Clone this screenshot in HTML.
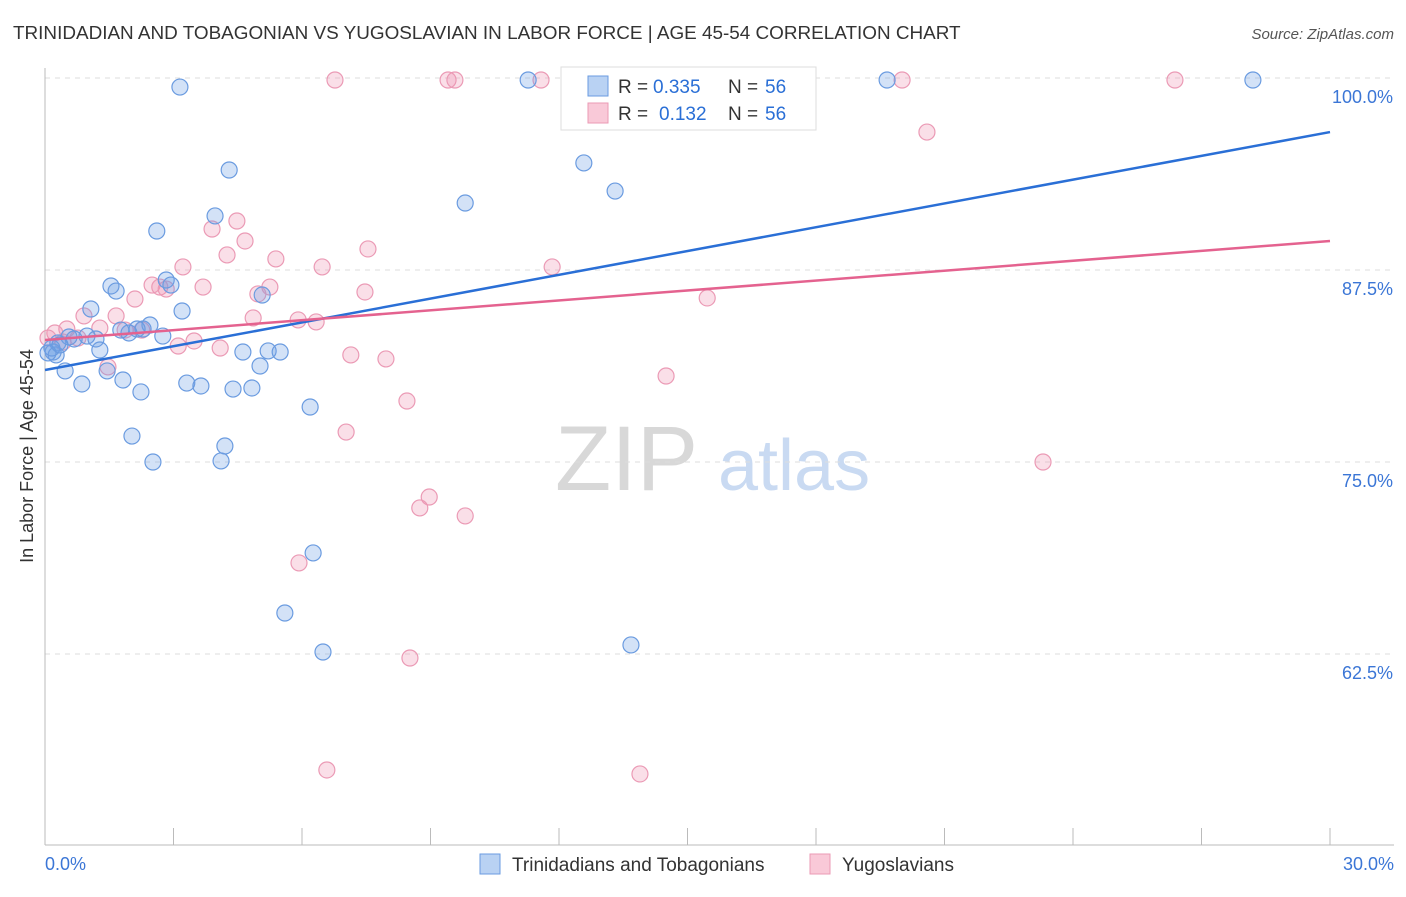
<!DOCTYPE html>
<html><head><meta charset="utf-8"><style>
body{margin:0;background:#fff;font-family:"Liberation Sans",sans-serif;}
svg text{font-family:"Liberation Sans",sans-serif;}
</style></head><body>
<svg id="chart" width="1406" height="892" xmlns="http://www.w3.org/2000/svg">
<text x="13" y="39" font-size="18.9" fill="#333">TRINIDADIAN AND TOBAGONIAN VS YUGOSLAVIAN IN LABOR FORCE | AGE 45-54 CORRELATION CHART</text>
<text x="1394" y="39" font-size="15" fill="#555" text-anchor="end" font-style="italic">Source: ZipAtlas.com</text>
<text transform="translate(33,456) rotate(-90)" font-size="18" fill="#333" text-anchor="middle">In Labor Force | Age 45-54</text>
<text x="555" y="490" font-size="92" fill="#d8d8d8" font-family="Liberation Serif,serif">ZIP</text>
<text x="718" y="490" font-size="72" fill="#c9daf2">atlas</text>
<g id="grid"></g><g id="axes"></g><g id="pts"></g><g id="lines"></g>
<g>
<rect x="561" y="67" width="255" height="63" fill="#fff" stroke="#ddd"/>
<rect x="588" y="76" width="20" height="20" fill="#b9d2f3" stroke="#6a9be0"/>
<rect x="588" y="103" width="20" height="20" fill="#f9c9d8" stroke="#eb9ab5"/>
<text x="618" y="93" font-size="19" fill="#333">R =</text>
<text x="653" y="93" font-size="19" fill="#2a6fd6">0.335</text>
<text x="728" y="93" font-size="19" fill="#333">N =</text>
<text x="765" y="93" font-size="19" fill="#2a6fd6">56</text>
<text x="618" y="120" font-size="19" fill="#333">R =</text>
<text x="659" y="120" font-size="19" fill="#2a6fd6">0.132</text>
<text x="728" y="120" font-size="19" fill="#333">N =</text>
<text x="765" y="120" font-size="19" fill="#2a6fd6">56</text>
</g>
<g>
<rect x="480" y="854" width="20" height="20" fill="#b9d2f3" stroke="#6a9be0"/>
<text x="512" y="871" font-size="19" fill="#333">Trinidadians and Tobagonians</text>
<rect x="810" y="854" width="20" height="20" fill="#f9c9d8" stroke="#eb9ab5"/>
<text x="842" y="871" font-size="19" fill="#333">Yugoslavians</text>
</g>
</svg>
<script>
const blueX=[3.15,4.30,2.61,3.97,1.54,1.66,2.83,2.94,1.07,3.20,2.45,2.29,2.15,1.96,1.77,2.75,0.98,0.68,0.56,1.19,1.28,0.30,0.19,0.26,0.47,0.86,1.45,1.82,2.24,3.31,3.64,4.39,4.83,4.62,5.21,5.49,5.02,5.07,6.19,2.03,2.52,4.20,4.11,6.26,5.60,6.49,9.81,11.28,12.58,13.31,13.68,19.66,28.20,0.16,0.07,0.35];
const blueY=[99.41,94.01,90.04,91.02,86.46,86.13,86.85,86.52,84.96,84.83,83.92,83.66,83.66,83.40,83.59,83.20,83.20,83.01,83.14,83.01,82.29,82.75,82.16,81.97,80.93,80.08,80.93,80.34,79.56,80.14,79.95,79.75,79.82,82.16,82.23,82.16,81.25,85.87,78.58,76.69,75.00,76.04,75.07,69.08,65.17,62.63,91.86,99.87,94.47,92.64,63.09,99.87,99.87,82.42,82.10,82.62];
const pinkX=[6.77,9.41,9.57,11.58,12.63,20.01,26.38,20.59,4.48,3.90,4.67,4.25,7.54,5.39,3.22,6.47,11.84,2.50,2.68,2.83,3.69,5.25,4.97,7.47,15.46,2.10,1.66,0.91,4.86,5.91,6.33,1.28,0.51,0.23,0.07,3.11,3.48,4.09,7.14,7.96,1.47,14.50,8.45,7.03,23.30,8.97,8.75,9.81,5.93,8.52,6.58,13.89,0.77,0.42,1.87,2.26];
const pinkY=[99.87,99.87,99.87,99.87,99.87,99.87,99.87,96.48,90.69,90.17,89.39,88.48,88.87,88.22,87.70,87.70,87.70,86.52,86.39,86.26,86.39,86.39,85.94,86.07,85.68,85.61,84.51,84.51,84.38,84.25,84.12,83.72,83.66,83.40,83.07,82.55,82.88,82.42,81.97,81.71,81.19,80.60,78.97,76.95,75.00,72.72,72.01,71.49,68.43,62.24,54.95,54.69,83.07,82.81,83.59,83.59];
const blueTrend=[80.99,96.48];
const pinkTrend=[82.94,89.39];
const yTicks=[100,87.5,75,62.5];
const yTickLabels=["100.0%","87.5%","75.0%","62.5%"];
const xTicks=[0,3,6,9,12,15,18,21,24,27,30];
const xs=v=>45+v/30*1285;
const ys=v=>78+(100-v)*15.36;
const NS="http://www.w3.org/2000/svg";
function mk(parent,tag,attrs){const e=document.createElementNS(NS,tag);for(const k in attrs)e.setAttribute(k,attrs[k]);document.getElementById(parent).appendChild(e);return e;}
yTicks.forEach((t,i)=>{
 const l=mk('grid','line',{x1:45,x2:1394,y1:ys(t),y2:ys(t),stroke:'#ddd','stroke-dasharray':'5,5'});
 
 
 const tx=mk('grid','text',{x:1393,y:ys(t)+25,'font-size':18,fill:'#3b76d6','text-anchor':'end'});
 tx.textContent=yTickLabels[i];
 
 
});
let a=mk('axes','line',{x1:45,x2:45,y1:68,y2:845,stroke:'#bbb'});


a=mk('axes','line',{x1:45,x2:1394,y1:845,y2:845,stroke:'#bbb'});


xTicks.forEach(t=>{const l=mk('axes','line',{x1:xs(t),x2:xs(t),y1:828,y2:845,stroke:'#bbb'});
 
 });
let t=mk('axes','text',{x:45,y:870,'font-size':18,fill:'#3b76d6'});t.textContent='0.0%';


t=mk('axes','text',{x:1394,y:870,'font-size':18,fill:'#3b76d6','text-anchor':'end'});t.textContent='30.0%';


pinkX.forEach((x,i)=>{const c=mk('pts','circle',{cx:xs(x),cy:ys(pinkY[i]),r:8,fill:'rgba(240,150,180,0.3)',stroke:'#eb9ab5','stroke-width':1.2});
 
 });
blueX.forEach((x,i)=>{const c=mk('pts','circle',{cx:xs(x),cy:ys(blueY[i]),r:8,fill:'rgba(110,160,230,0.3)',stroke:'#6a9be0','stroke-width':1.2});
 
 });
let ln=mk('lines','line',{x1:xs(0),y1:ys(blueTrend[0]),x2:xs(30),y2:ys(blueTrend[1]),stroke:'#2a6fd6','stroke-width':2.5});


ln=mk('lines','line',{x1:xs(0),y1:ys(pinkTrend[0]),x2:xs(30),y2:ys(pinkTrend[1]),stroke:'#e4628f','stroke-width':2.5});


</script>
</body></html>
